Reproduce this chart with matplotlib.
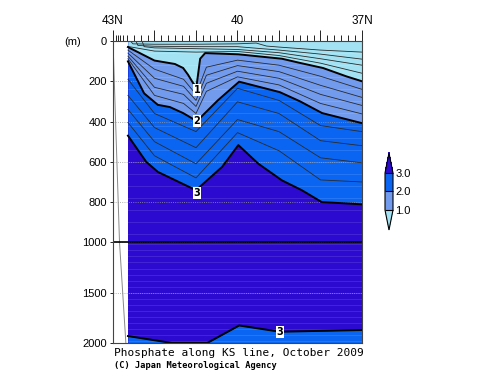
import numpy as np
import matplotlib
matplotlib.use("Agg")
import matplotlib.pyplot as plt
import matplotlib.colors as mcolors
import matplotlib.cm as cm

plt.rcParams['font.family'] = ['Liberation Sans', 'DejaVu Sans']

# Section KS : limites des donnees (latitude, degres N)
lat_data = [42.64, 37.0]

# Isolignes : latitude (N) et profondeur (m)
c02_lat = [42.58, 42.52, 42.0, 41.0, 40.0, 39.55, 39.3, 39.0, 38.0, 37.0]
c02_dep = [0, 14, 16, 16, 14, 10, 25, 30, 45, 55]
c04_lat = [42.45, 42.40, 42.0, 41.0, 40.0, 39.0, 38.0, 37.0]
c04_dep = [0, 22, 26, 28, 28, 45, 65, 90]
c06_lat = [42.30, 42.25, 42.0, 41.0, 40.0, 39.0, 38.0, 37.0]
c06_dep = [0, 28, 34, 38, 42, 58, 88, 120]
c08_lat = [42.64, 42.0, 41.0, 40.0, 39.0, 38.0, 37.0]
c08_dep = [27, 50, 55, 52, 72, 110, 160]

c10_lat = [42.64, 42.0, 41.51, 41.31, 41.19, 41.07, 40.99, 40.90, 40.78, 39.98, 38.93, 38.49, 37.94, 37.37, 37.0]
c10_dep = [30, 97, 114, 134, 168, 209, 228, 88, 60, 66, 88, 109, 134, 176, 200]

mid_lat = [42.64, 42.0, 41.3, 41.0, 40.75, 40.0, 39.0, 38.0, 37.0]
c12_dep = [45, 140, 190, 265, 130, 95, 120, 175, 240]
c14_dep = [60, 185, 225, 295, 170, 122, 152, 220, 280]
c16_dep = [75, 230, 265, 325, 210, 150, 185, 265, 320]
c18_dep = [88, 270, 310, 360, 250, 178, 218, 310, 362]

c20_lat = [42.64, 42.25, 41.92, 41.63, 41.31, 40.98, 40.47, 39.96, 38.98, 38.49, 37.96, 37.0]
c20_dep = [101, 260, 317, 328, 358, 398, 294, 202, 254, 300, 358, 408]

sta_lat = [42.64, 42.0, 41.0, 40.0, 39.0, 38.0, 37.0]
c22_dep = [190, 360, 450, 235, 295, 420, 450]
c24_dep = [270, 430, 530, 302, 360, 495, 520]
c26_dep = [340, 500, 610, 390, 450, 580, 605]
c28_dep = [405, 570, 680, 455, 545, 690, 700]

c30_lat = [42.64, 42.2, 41.92, 41.0, 40.37, 39.98, 39.50, 38.93, 38.45, 37.97, 37.0]
c30_dep = [470, 600, 650, 741, 625, 517, 609, 692, 741, 800, 811]

# isoligne 3.0 au fond
d30_lat = [42.64, 41.58, 40.73, 39.96, 38.98, 37.0]
d30_dep = [1931, 2000, 2000, 1826, 1888, 1871]

# topographie (trait gris a gauche)
bathy_lat = [43.0, 42.843, 42.69]
bathy_dep = [0, 1000, 2000]

# etiquettes des isolignes
lab_lat = [40.98, 40.98, 40.98, 38.98]
lab_dep = [244, 398, 756, 1891]
lab_txt = ['1', '2', '3', '3']

levels = [1.0, 2.0, 3.0]
col_under = '#a3e2f2'
col_12 = '#729bee'
col_23 = '#0a66f2'
col_over = '#2c0ad0'


# echelle verticale : 0-1000 m puis 1000-2000 m compresse de moitie
def fwd(d):
    d = np.asarray(d, dtype=float)
    return np.where(d <= 1000, d, 1000 + (d - 1000) / 2.0)


def inv(y):
    y = np.asarray(y, dtype=float)
    return np.where(y <= 1000, y, 1000 + (y - 1000) * 2.0)


fig = plt.figure(figsize=(5, 3.87), dpi=100)
ax = fig.add_axes([0.226, 0.1137, 0.498, 0.7803])
ax.set_yscale('function', functions=(fwd, inv))

# remplissage par couches
ax.fill_between(lat_data, 0, 2000, color=col_over, lw=0)
ax.fill_between(c30_lat, 0, c30_dep, color=col_23, lw=0)
ax.fill_between(c20_lat, 0, c20_dep, color=col_12, lw=0)
ax.fill_between(c10_lat, 0, c10_dep, color=col_under, lw=0)
ax.fill_between(d30_lat, d30_dep, 2000, color=col_23, lw=0)

# stries claires horizontales du trace d'origine
for d in np.arange(60, 2000, 60):
    ax.plot(lat_data, [d, d], color='white', lw=0.6, alpha=0.13)

# isolignes fines
thin = dict(color='#2a2a2a', lw=0.6)
for la, de in [(c02_lat, c02_dep), (c04_lat, c04_dep), (c06_lat, c06_dep), (c08_lat, c08_dep),
               (mid_lat, c12_dep), (mid_lat, c14_dep), (mid_lat, c16_dep), (mid_lat, c18_dep),
               (sta_lat, c22_dep), (sta_lat, c24_dep), (sta_lat, c26_dep), (sta_lat, c28_dep)]:
    ax.plot(la, de, **thin)

# isolignes epaisses 1, 2, 3
thick = dict(color='black', lw=1.4)
ax.plot(c10_lat, c10_dep, **thick)
ax.plot(c20_lat, c20_dep, **thick)
ax.plot(c30_lat, c30_dep, **thick)
ax.plot(d30_lat, d30_dep, **thick)

for la, de, t in zip(lab_lat, lab_dep, lab_txt):
    ax.text(la, de, t, fontsize=7, ha='center', va='center', family='DejaVu Sans', weight='bold',
            bbox=dict(boxstyle='square,pad=0.08', fc='white', ec='none'))

ax.plot(bathy_lat, bathy_dep, color='#888888', lw=0.7)
ax.axhline(1000, color='black', lw=1.2)

ax.set_xlim(43, 37)
ax.set_ylim(2000, 0)

# axe du haut : latitude
ax.xaxis.tick_top()
ax.set_xticks([43, 42, 41, 40, 39, 38, 37])
ax.set_xticklabels(['43N', '', '', '40', '', '', '37N'], fontsize=8.5)
minor = list(np.arange(43, 36.99, -1 / 6.0)) + [42.935, 42.887, 42.766]
ax.set_xticks(minor, minor=True)
ax.tick_params(axis='x', which='major', length=8, width=0.6, pad=2)
ax.tick_params(axis='x', which='minor', length=4.5, width=0.6)

ax.set_yticks([0, 200, 400, 600, 800, 1000, 1500, 2000])
ax.set_yticklabels(['0', '200', '400', '600', '800', '1000', '1500', '2000'], fontsize=8)
ax.yaxis.set_minor_locator(matplotlib.ticker.NullLocator())
ax.tick_params(axis='y', length=2.5, width=0.6, pad=2)
ax.yaxis.grid(True, linestyle=':', color='#9a9a9a', lw=0.6)

for s in ax.spines.values():
    s.set_color('#444444')
    s.set_linewidth(0.8)

fig.text(0.146, 0.8915, '(m)', fontsize=8, ha='center', va='center')

# barre de couleurs (les triangles sont dans l'axe)
cmap = mcolors.ListedColormap([col_12, col_23])
cmap.set_under(col_under)
cmap.set_over(col_over)
norm = mcolors.BoundaryNorm(levels, cmap.N)
cax = fig.add_axes([0.77, 0.4057, 0.016, 0.199])
cb = fig.colorbar(cm.ScalarMappable(norm=norm, cmap=cmap), cax=cax, extend='both',
                  extendfrac=0.54, drawedges=True, ticks=levels)
cb.ax.set_yticklabels(['1.0', '2.0', '3.0'], fontsize=8)
cb.ax.tick_params(length=0, pad=1.5)
cb.outline.set_linewidth(0.8)
cb.dividers.set_linewidth(0.8)

# titre
fig.text(0.228, 0.0886, 'Phosphate along KS line, October 2009', family='DejaVu Sans Mono',
         fontsize=8, va='center')
fig.text(0.228, 0.0543, '(C) Japan Meteorological Agency', family='DejaVu Sans Mono',
         weight='bold', fontsize=6.2, va='center')

fig.savefig('out.png', dpi=100)
